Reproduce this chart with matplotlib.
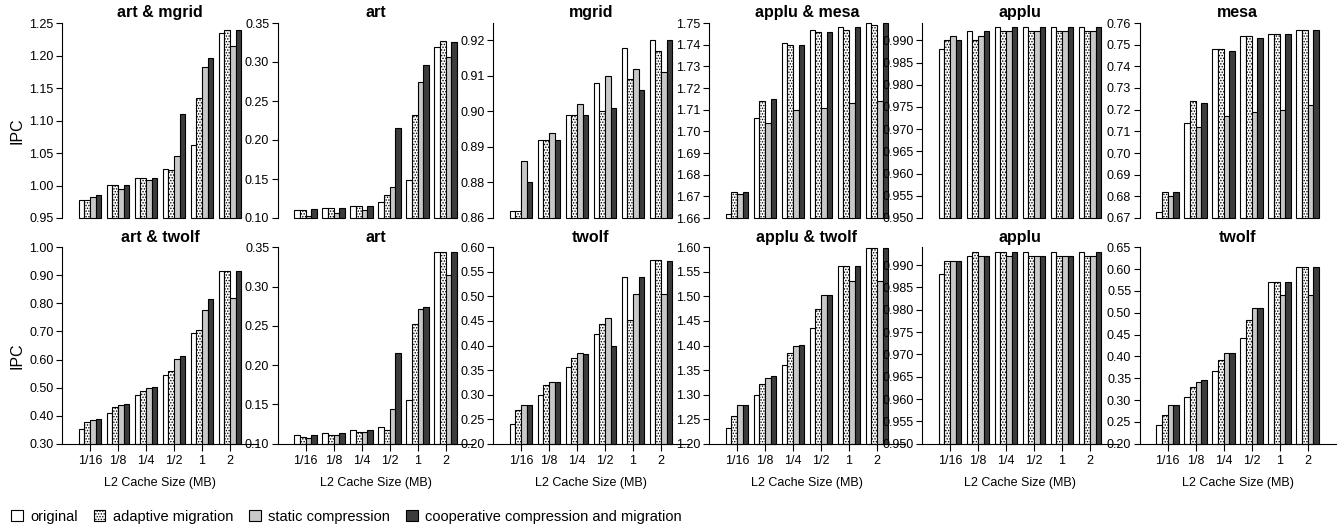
import numpy as np
import matplotlib
matplotlib.use('Agg')
import matplotlib.pyplot as plt
from matplotlib.patches import Patch

plt.rcParams['font.family'] = ['Liberation Sans', 'DejaVu Sans']
plt.rcParams['hatch.linewidth'] = 0.7

# cache sizes and schemes
sizes = ['1/16', '1/8', '1/4', '1/2', '1', '2']
schemes = ['original', 'adaptive migration', 'static compression',
           'cooperative compression and migration']

# ---- top row ----
art_mgrid_orig = [0.978, 1.000, 1.012, 1.025, 1.062, 1.234]
art_mgrid_adapt = [0.977, 1.000, 1.011, 1.024, 1.135, 1.239]
art_mgrid_static = [0.983, 0.995, 1.008, 1.045, 1.182, 1.214]
art_mgrid_coop = [0.985, 1.000, 1.011, 1.110, 1.196, 1.239]

art1_orig = [0.110, 0.113, 0.116, 0.121, 0.149, 0.319]
art1_adapt = [0.110, 0.113, 0.116, 0.129, 0.232, 0.327]
art1_static = [0.103, 0.106, 0.110, 0.140, 0.274, 0.306]
art1_coop = [0.111, 0.113, 0.116, 0.216, 0.296, 0.325]

mgrid_orig = [0.872, 0.892, 0.899, 0.908, 0.918, 0.920]
mgrid_adapt = [0.872, 0.892, 0.899, 0.900, 0.909, 0.917]
mgrid_static = [0.886, 0.894, 0.902, 0.910, 0.912, 0.911]
mgrid_coop = [0.880, 0.892, 0.899, 0.901, 0.906, 0.920]

applu_mesa_orig = [1.662, 1.706, 1.741, 1.747, 1.748, 1.750]
applu_mesa_adapt = [1.672, 1.714, 1.740, 1.746, 1.747, 1.749]
applu_mesa_static = [1.671, 1.704, 1.710, 1.711, 1.713, 1.714]
applu_mesa_coop = [1.672, 1.715, 1.740, 1.746, 1.748, 1.750]

applu1_orig = [0.988, 0.992, 0.993, 0.993, 0.993, 0.993]
applu1_adapt = [0.990, 0.990, 0.992, 0.992, 0.992, 0.992]
applu1_static = [0.991, 0.991, 0.992, 0.992, 0.992, 0.992]
applu1_coop = [0.990, 0.992, 0.993, 0.993, 0.993, 0.993]

mesa_orig = [0.673, 0.714, 0.748, 0.754, 0.755, 0.757]
mesa_adapt = [0.682, 0.724, 0.748, 0.754, 0.755, 0.757]
mesa_static = [0.680, 0.712, 0.717, 0.719, 0.720, 0.722]
mesa_coop = [0.682, 0.723, 0.747, 0.753, 0.755, 0.757]

# ---- bottom row ----
art_twolf_orig = [0.352, 0.411, 0.472, 0.544, 0.695, 0.917]
art_twolf_adapt = [0.376, 0.430, 0.489, 0.560, 0.705, 0.917]
art_twolf_static = [0.384, 0.438, 0.499, 0.602, 0.776, 0.820]
art_twolf_coop = [0.388, 0.440, 0.501, 0.613, 0.814, 0.917]

art2_orig = [0.111, 0.113, 0.118, 0.121, 0.155, 0.344]
art2_adapt = [0.109, 0.111, 0.115, 0.118, 0.252, 0.344]
art2_static = [0.107, 0.111, 0.115, 0.144, 0.271, 0.315]
art2_coop = [0.111, 0.113, 0.118, 0.215, 0.274, 0.344]

twolf1_orig = [0.241, 0.299, 0.356, 0.423, 0.540, 0.574]
twolf1_adapt = [0.268, 0.319, 0.375, 0.443, 0.452, 0.574]
twolf1_static = [0.278, 0.326, 0.384, 0.457, 0.504, 0.504]
twolf1_coop = [0.278, 0.326, 0.382, 0.398, 0.539, 0.573]

applu_twolf_orig = [1.231, 1.299, 1.361, 1.436, 1.562, 1.598]
applu_twolf_adapt = [1.256, 1.322, 1.385, 1.474, 1.562, 1.598]
applu_twolf_static = [1.279, 1.334, 1.398, 1.503, 1.532, 1.532]
applu_twolf_coop = [1.279, 1.337, 1.401, 1.503, 1.562, 1.598]

applu2_orig = [0.988, 0.992, 0.993, 0.993, 0.993, 0.993]
applu2_adapt = [0.991, 0.993, 0.993, 0.992, 0.992, 0.992]
applu2_static = [0.991, 0.992, 0.992, 0.992, 0.992, 0.992]
applu2_coop = [0.991, 0.992, 0.993, 0.992, 0.992, 0.993]

twolf2_orig = [0.242, 0.306, 0.367, 0.442, 0.570, 0.606]
twolf2_adapt = [0.265, 0.329, 0.392, 0.483, 0.570, 0.606]
twolf2_static = [0.288, 0.342, 0.408, 0.512, 0.540, 0.540]
twolf2_coop = [0.288, 0.345, 0.408, 0.512, 0.570, 0.606]

# y axis ticks (values) and their printed labels
yt_art_mgrid = [0.95, 1.00, 1.05, 1.10, 1.15, 1.20, 1.25]
yt_art1 = [0.10, 0.15, 0.20, 0.25, 0.30, 0.35]
yt_mgrid = [0.87, 0.88, 0.89, 0.90, 0.91, 0.92]
yl_mgrid = ['0.86', '0.88', '0.89', '0.90', '0.91', '0.92']
yt_applu_mesa = [1.66, 1.67, 1.68, 1.69, 1.70, 1.71, 1.72, 1.73, 1.74, 1.75]
yt_applu = [0.950, 0.955, 0.960, 0.965, 0.970, 0.975, 0.980, 0.985, 0.990]
yt_mesa = [0.67, 0.68, 0.69, 0.70, 0.71, 0.72, 0.73, 0.74, 0.75, 0.76]
yt_art_twolf = [0.30, 0.40, 0.50, 0.60, 0.70, 0.80, 0.90, 1.00]
yt_art2 = [0.10, 0.15, 0.20, 0.25, 0.30, 0.35]
yt_twolf1 = [0.20, 0.25, 0.30, 0.35, 0.40, 0.45, 0.50, 0.55, 0.60]
yt_applu_twolf = [1.20, 1.25, 1.30, 1.35, 1.40, 1.45, 1.50, 1.55, 1.60]
yt_twolf2 = [0.20, 0.25, 0.30, 0.35, 0.40, 0.45, 0.50, 0.55, 0.60, 0.65]

panels = [
    # row 0
    ('art & mgrid', [art_mgrid_orig, art_mgrid_adapt, art_mgrid_static, art_mgrid_coop],
     yt_art_mgrid, None, (0.95, 1.25)),
    ('art', [art1_orig, art1_adapt, art1_static, art1_coop], yt_art1, None, (0.10, 0.35)),
    ('mgrid', [mgrid_orig, mgrid_adapt, mgrid_static, mgrid_coop], yt_mgrid, yl_mgrid, (0.87, 0.9249)),
    ('applu & mesa', [applu_mesa_orig, applu_mesa_adapt, applu_mesa_static, applu_mesa_coop],
     yt_applu_mesa, None, (1.66, 1.75)),
    ('applu', [applu1_orig, applu1_adapt, applu1_static, applu1_coop], yt_applu, None, (0.950, 0.9939)),
    ('mesa', [mesa_orig, mesa_adapt, mesa_static, mesa_coop], yt_mesa, None, (0.67, 0.76)),
    # row 1
    ('art & twolf', [art_twolf_orig, art_twolf_adapt, art_twolf_static, art_twolf_coop],
     yt_art_twolf, None, (0.30, 1.00)),
    ('art', [art2_orig, art2_adapt, art2_static, art2_coop], yt_art2, None, (0.10, 0.35)),
    ('twolf', [twolf1_orig, twolf1_adapt, twolf1_static, twolf1_coop], yt_twolf1, None, (0.20, 0.60)),
    ('applu & twolf', [applu_twolf_orig, applu_twolf_adapt, applu_twolf_static, applu_twolf_coop],
     yt_applu_twolf, None, (1.20, 1.60)),
    ('applu', [applu2_orig, applu2_adapt, applu2_static, applu2_coop], yt_applu, None, (0.950, 0.9940)),
    ('twolf', [twolf2_orig, twolf2_adapt, twolf2_static, twolf2_coop], yt_twolf2, None, (0.20, 0.65)),
]

faces = ['white', 'white', '#c8c8c8', '#3c3c3c']
hatches = [None, '......', None, None]

W, H = 1342, 531
fig = plt.figure(figsize=(W / 100, H / 100), dpi=100)

col_left = [62, 277.5, 493, 709, 922, 1139.5]
ax_w = 196
rows = [(23, 218), (247.3, 443.7)]
bw = 0.2
x = np.arange(len(sizes))

for k, (title, series, yticks, ylabels, ylim) in enumerate(panels):
    r, c = divmod(k, 6)
    top, bot = rows[r]
    ax = fig.add_axes([col_left[c] / W, (H - bot) / H, ax_w / W, (bot - top) / H])
    ymin = ylim[0]
    for i, vals in enumerate(series):
        ax.bar(x + (i - 1.5) * bw, np.array(vals) - ymin, bw, bottom=ymin,
               color=faces[i], edgecolor='black', linewidth=0.8,
               hatch=hatches[i], clip_on=False)
    ax.set_xlim(-1, 6)
    ax.set_ylim(*ylim)
    ax.set_yticks(yticks)
    if ylabels is None:
        dec = 3 if yticks[1] - yticks[0] < 0.009 else 2
        ylabels = [f'{v:.{dec}f}' for v in yticks]
    ax.set_yticklabels(ylabels)
    ax.spines['top'].set_visible(False)
    ax.spines['right'].set_visible(False)
    ax.tick_params(axis='y', direction='out', length=4, width=0.8, labelsize=9, pad=2)
    ax.set_title(title, fontsize=11.5, fontweight='bold', pad=4)
    if r == 0:
        ax.spines['bottom'].set_visible(False)
        ax.set_xticks([])
    else:
        ax.set_xticks(x)
        ax.set_xticklabels(sizes)
        ax.tick_params(axis='x', direction='out', length=5, width=0.8, labelsize=9, pad=3)
        ax.set_xlabel('L2 Cache Size (MB)', fontsize=9, labelpad=7)
    if c == 0:
        ax.set_ylabel('IPC', fontsize=11.5)
        ax.yaxis.set_label_coords(-0.19, 0.45)

handles = [Patch(facecolor=faces[i], edgecolor='black', linewidth=0.8, hatch=hatches[i])
           for i in range(4)]
fig.legend(handles, schemes, loc='center left', bbox_to_anchor=(0.004, 0.027),
           ncol=4, frameon=False, fontsize=10.5, handlelength=0.8, handleheight=0.8,
           handletextpad=0.5, columnspacing=1.1, borderaxespad=0)

fig.savefig('out.png', dpi=100)
